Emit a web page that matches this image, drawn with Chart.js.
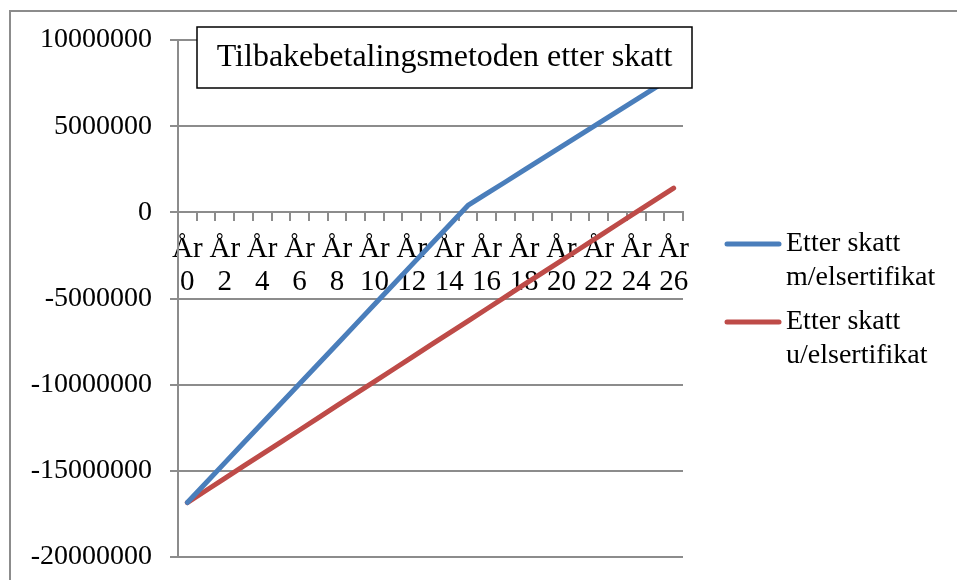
<!DOCTYPE html>
<html>
<head>
<meta charset="utf-8">
<script src="https://cdn.jsdelivr.net/npm/chart.js@4"></script>
<style>
  body { margin: 0; background: #fff; }
  #wrap { width: 957px; height: 580px; }
</style>
</head>
<body>
<div id="wrap"><canvas id="chart" width="957" height="580"></canvas></div>
<script>
const years = ['År 0', 'År 1', 'År 2', 'År 3', 'År 4', 'År 5', 'År 6', 'År 7', 'År 8', 'År 9',
    'År 10', 'År 11', 'År 12', 'År 13', 'År 14', 'År 15', 'År 16', 'År 17', 'År 18', 'År 19',
    'År 20', 'År 21', 'År 22', 'År 23', 'År 24', 'År 25', 'År 26'];

// Etter skatt m/elsertifikat
const medSertifikat = [-16840000, -15690000, -14540000, -13390000, -12240000, -11090000, -9950000,
    -8800000, -7650000, -6500000, -5350000, -4200000, -3050000, -1900000, -750000, 400000,
    1080000, 1760000, 2450000, 3130000, 3810000, 4490000, 5170000, 5860000, 6540000, 7220000, 7900000];

// Etter skatt u/elsertifikat
const utenSertifikat = [-16840000, -16140000, -15440000, -14730000, -14030000, -13330000, -12630000,
    -11930000, -11220000, -10520000, -9820000, -9120000, -8420000, -7710000, -7010000, -6310000,
    -5610000, -4910000, -4200000, -3500000, -2800000, -2100000, -1400000, -690000, 10000, 710000, 1410000];

const seriesLabels = [['Etter skatt', 'm/elsertifikat'], ['Etter skatt', 'u/elsertifikat']];
const seriesColors = ['#4A7EBB', '#BE4B48'];
const chartTitle = 'Tilbakebetalingsmetoden etter skatt';

const FONT = "'Liberation Serif', 'Times New Roman', serif";
const GRID = '#8c8c8c';

const frame = {
    id: 'frame',
    beforeDraw(chart) {
        const ctx = chart.ctx;
        ctx.save();
        ctx.fillStyle = '#fff';
        ctx.fillRect(0, 0, chart.width, chart.height);
        ctx.strokeStyle = GRID;
        ctx.lineWidth = 2;
        ctx.strokeRect(10, 11, 1000, 1000);
        ctx.restore();
    }
};

// title box sits on top of the plot, like the original
const titleBox = {
    id: 'titleBox',
    afterDatasetsDraw(chart) {
        const ctx = chart.ctx;
        ctx.save();
        ctx.fillStyle = '#fff';
        ctx.fillRect(197, 27, 495, 61);
        ctx.strokeStyle = '#000';
        ctx.lineWidth = 1.5;
        ctx.strokeRect(197, 27, 495, 61);
        ctx.fillStyle = '#000';
        ctx.font = '32px ' + FONT;
        ctx.textAlign = 'center';
        ctx.textBaseline = 'middle';
        ctx.fillText(chartTitle, 444.5, 58);
        ctx.restore();
    }
};

const sideLegend = {
    id: 'sideLegend',
    afterDraw(chart) {
        const ctx = chart.ctx;
        ctx.save();
        ctx.font = '28px ' + FONT;
        ctx.textBaseline = 'middle';
        ctx.textAlign = 'left';
        chart.data.datasets.forEach((ds, i) => {
            const y = 244 + i * 78;
            ctx.strokeStyle = ds.borderColor;
            ctx.lineWidth = 5;
            ctx.lineCap = 'round';
            ctx.beginPath();
            ctx.moveTo(727, y);
            ctx.lineTo(779, y);
            ctx.stroke();
            ctx.fillStyle = '#000';
            ds.label.forEach((line, j) => ctx.fillText(line, 786, y + j * 34));
        });
        ctx.restore();
    }
};

const ctx = document.getElementById('chart').getContext('2d');
new Chart(ctx, {
    type: 'line',
    data: {
        labels: years,
        datasets: [
            { label: seriesLabels[0], data: medSertifikat, borderColor: seriesColors[0] },
            { label: seriesLabels[1], data: utenSertifikat, borderColor: seriesColors[1] }
        ]
    },
    options: {
        responsive: false,
        animation: false,
        layout: { padding: { left: 0, top: 40, right: 274, bottom: 23 } },
        elements: {
            point: { radius: 0 },
            line: { borderWidth: 5, tension: 0, borderCapStyle: 'round', borderJoinStyle: 'round' }
        },
        plugins: {
            legend: { display: false },
            title: { display: false },
            tooltip: { enabled: false }
        },
        scales: {
            x: {
                type: 'category',
                position: { y: 0 },
                offset: true,
                afterFit: scale => {
                    scale.height = 0;
                    scale.paddingLeft = scale.paddingRight = scale.paddingTop = scale.paddingBottom = 0;
                },
                grid: { offset: true, drawOnChartArea: false, drawTicks: true, tickLength: 8, color: GRID, lineWidth: 2 },
                border: { color: GRID, width: 2 },
                ticks: {
                    autoSkip: false,
                    maxRotation: 0,
                    padding: 13,
                    color: '#000',
                    font: { family: FONT, size: 29, lineHeight: 1.12 },
                    callback: function(value, index) {
                        return index % 2 === 0 ? this.getLabelForValue(value).split(' ') : '';
                    }
                }
            },
            y: {
                min: -20000000,
                max: 10000000,
                afterFit: scale => {
                    scale.width = 178;
                    scale.paddingTop = scale.paddingBottom = 0;
                },
                grid: { color: GRID, lineWidth: 2, tickLength: 8 },
                border: { color: GRID, width: 2 },
                ticks: {
                    stepSize: 5000000,
                    padding: 18,
                    color: '#000',
                    font: { family: FONT, size: 28 },
                    callback: v => String(v)
                }
            }
        }
    },
    plugins: [frame, titleBox, sideLegend]
});
</script>
</body>
</html>
